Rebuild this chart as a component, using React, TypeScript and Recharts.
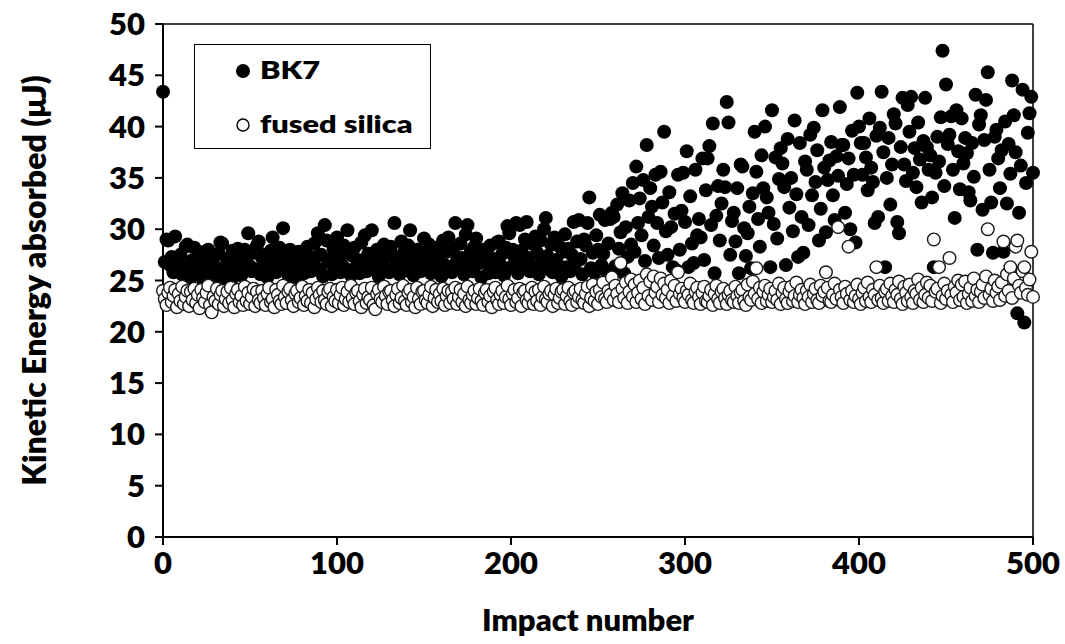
import {
  ScatterChart,
  Scatter,
  XAxis,
  YAxis,
  Legend,
  ReferenceLine,
} from 'recharts'

// impact numbers run 0..500, one reading per impact
const BK7 = [
  43.4, 26.8, 29.0, 28.9, 26.5, 27.3, 25.8, 29.3, 26.9, 26.1,
  27.5, 25.6, 26.4, 28.3, 28.5, 26.2, 25.3, 27.0, 28.2, 26.6,
  25.9, 27.4, 26.3, 25.1, 27.8, 26.0, 28.0, 26.7, 25.5, 27.2,
  26.1, 25.4, 27.6, 28.7, 28.6, 26.3, 25.2, 27.1, 26.5, 24.9,
  27.9, 26.2, 25.7, 28.1, 27.0, 25.5, 26.8, 28.0, 27.3, 29.6,
  26.4, 25.9, 27.7, 26.1, 28.4, 28.8, 25.6, 27.2, 26.0, 27.5,
  25.3, 26.7, 27.9, 29.2, 26.2, 25.8, 27.1, 28.2, 26.5, 30.1,
  27.4, 26.0, 25.5, 28.0, 26.9, 27.6, 25.2, 26.3, 27.8, 26.6,
  27.8, 25.7, 26.4, 28.3, 27.1, 25.9, 26.7, 28.6, 27.3, 29.6,
  26.1, 27.5, 25.4, 30.4, 28.9, 26.8, 27.0, 25.6, 28.1, 26.4,
  29.2, 27.2, 25.8, 26.5, 28.4, 27.7, 29.9, 26.0, 25.5, 27.4,
  28.2, 26.3, 27.0, 25.7, 28.7, 26.8, 29.4, 25.9, 27.6, 26.2,
  29.9, 27.1, 26.5, 28.0, 25.4, 27.8, 26.9, 28.5, 26.1, 27.3,
  25.8, 28.3, 27.5, 30.6, 26.4, 27.0, 25.6, 28.8, 26.7, 27.9,
  26.0, 28.4, 29.9, 27.2, 25.5, 26.8, 28.0, 27.4, 25.9, 26.6,
  29.1, 27.7, 26.2, 28.5, 25.7, 27.3, 26.9, 28.2, 26.0, 27.6,
  25.4, 28.9, 26.5, 27.8, 29.2, 26.3, 25.8, 28.1, 30.6, 27.0,
  26.4, 28.6, 27.2, 25.6, 29.5, 30.4, 26.8, 27.9, 25.9, 28.3,
  29.1, 26.6, 27.5, 25.3, 28.0, 26.9, 27.8, 25.7, 28.4, 26.2,
  27.1, 25.8, 28.7, 28.8, 26.5, 27.6, 25.5, 28.2, 30.3, 29.6,
  26.3, 28.0, 27.3, 30.6, 25.7, 30.4, 27.9, 26.6, 29.0, 30.7,
  27.2, 25.9, 28.6, 26.4, 29.3, 27.7, 25.6, 28.9, 26.8, 30.0,
  31.1, 27.4, 26.1, 28.5, 25.8, 29.2, 27.0, 26.5, 28.3, 25.4,
  27.8, 29.5, 26.3, 28.1, 25.9, 27.5, 30.7, 26.7, 28.8, 30.9,
  27.1, 25.6, 29.0, 28.4, 30.6, 33.1, 26.2, 27.7, 25.8, 29.4,
  28.0, 31.4, 26.5, 27.6, 30.9, 25.9, 28.6, 31.0, 31.6, 31.2,
  26.4, 32.4, 28.1, 29.7, 33.5, 25.7, 30.2, 27.3, 32.8, 28.5,
  34.5, 27.8, 36.1, 30.6, 33.0, 29.4, 34.8, 26.9, 38.2, 31.2,
  34.0, 32.2, 28.4, 35.3, 30.6, 27.2, 35.6, 32.6, 39.5, 29.8,
  27.5, 33.6, 30.2, 26.3, 31.5, 26.0, 35.3, 28.0, 31.8, 35.5,
  30.7, 37.6, 26.3, 33.2, 28.6, 26.7, 35.8, 29.4, 31.0, 29.2,
  36.9, 27.0, 33.8, 36.9, 38.1, 30.4, 40.3, 25.7, 31.3, 34.2,
  28.9, 32.5, 35.8, 34.1, 42.4, 40.4, 27.5, 30.8, 31.6, 28.8,
  34.0, 25.7, 36.3, 36.1, 30.1, 27.4, 29.6, 32.2, 26.2, 33.5,
  39.5, 35.6, 31.0, 28.3, 37.2, 34.0, 40.0, 33.1, 31.6, 26.3,
  41.6, 30.5, 37.0, 29.1, 34.9, 37.9, 36.4, 34.1, 26.5, 38.8,
  32.1, 35.0, 29.8, 40.6, 33.4, 27.3, 38.4, 31.2, 27.7, 36.6,
  35.8, 30.4, 39.2, 33.3, 39.9, 34.6, 37.7, 28.9, 32.0, 41.6,
  36.0, 29.7, 34.8, 36.7, 38.5, 33.3, 30.9, 37.1, 35.2, 41.9,
  38.2, 38.2, 31.6, 34.4, 36.9, 30.0, 39.6, 35.3, 28.7, 43.3,
  40.0, 38.4, 35.3, 38.4, 37.0, 33.8, 40.8, 36.0, 34.6, 30.6,
  39.1, 31.2, 39.9, 43.4, 37.5, 26.3, 35.0, 38.9, 32.4, 36.3,
  41.2, 40.3, 30.7, 29.6, 38.0, 42.8, 36.3, 34.7, 42.1, 39.5,
  42.9, 35.5, 37.9, 34.1, 40.4, 36.8, 32.6, 38.6, 42.8, 38.0,
  35.8, 37.2, 33.1, 26.3, 35.5, 39.0, 36.6, 40.9, 47.4, 34.2,
  44.1, 38.3, 39.2, 41.0, 35.8, 31.1, 41.6, 37.6, 33.9, 40.8,
  36.4, 38.9, 37.4, 33.6, 32.8, 38.4, 35.1, 43.1, 28.0, 40.2,
  41.1, 31.9, 38.7, 42.6, 45.3, 35.8, 32.6, 27.7, 39.0, 39.7,
  36.9, 34.0, 37.7, 27.8, 40.5, 32.5, 38.3, 35.4, 44.5, 41.1,
  37.5, 21.8, 31.6, 36.2, 43.6, 20.9, 34.5, 39.4, 41.3, 42.9,
  35.5,
]

const FUSED_SILICA = [
  24.0, 23.2, 22.6, 23.8, 24.3, 22.9, 23.5, 24.1, 22.4, 23.7,
  23.0, 24.4, 22.7, 23.4, 24.0, 22.5, 23.9, 23.1, 24.2, 22.8,
  23.6, 22.3, 24.1, 23.3, 22.9, 23.8, 24.5, 22.6, 21.9, 23.4,
  23.0, 24.2, 22.7, 23.6, 24.0, 22.5, 23.2, 23.9, 22.8, 24.3,
  23.1, 22.4, 23.7, 24.1, 22.9, 23.5, 22.6, 24.4, 23.0, 23.8,
  22.7, 23.4, 24.2, 22.5, 23.9, 23.1, 22.8, 24.0, 23.3, 22.6,
  23.7, 24.3, 22.9, 23.2, 22.4, 24.1, 23.6, 23.0, 22.7, 24.5,
  23.4, 22.8, 23.9, 24.2, 23.1, 22.5, 23.7, 24.0, 22.9, 23.3,
  24.4, 22.6, 23.5, 23.0, 24.1, 22.8, 23.8, 22.4, 23.2, 24.3,
  23.6, 22.9, 24.0, 23.1, 22.7, 23.9, 24.2, 22.5, 23.4, 23.0,
  24.1, 22.8, 23.6, 24.3, 22.6, 23.2, 23.9, 22.9, 24.5, 23.3,
  22.7, 23.8, 24.0, 23.0, 22.4, 23.6, 24.2, 22.8, 23.4, 23.1,
  24.3, 22.6, 22.2, 23.7, 24.1, 23.2, 22.9, 24.4, 23.5, 22.7,
  23.9, 24.0, 23.1, 22.5, 23.6, 24.2, 22.8, 23.3, 24.5, 23.0,
  22.6, 23.8, 24.1, 22.9, 23.4, 22.4, 24.3, 23.2, 22.7, 23.9,
  24.0, 23.1, 22.8, 23.6, 24.4, 22.5, 23.3, 24.1, 22.9, 23.7,
  23.0, 24.2, 22.6, 23.5, 24.0, 22.8, 23.9, 23.2, 24.3, 22.7,
  23.4, 24.1, 22.9, 23.7, 22.5, 24.4, 23.1, 22.8, 23.6, 24.0,
  22.7, 23.3, 24.2, 23.0, 22.6, 23.8, 24.1, 22.9, 23.5, 22.4,
  23.9, 24.3, 23.1, 22.7, 23.6, 24.0, 22.8, 23.4, 24.5, 23.2,
  22.6, 23.7, 24.1, 22.9, 23.3, 24.2, 22.5, 23.8, 24.0, 23.1,
  22.8, 23.5, 24.3, 22.7, 23.9, 23.0, 24.1, 22.6, 23.4, 24.4,
  23.2, 22.9, 23.7, 24.0, 22.5, 23.6, 24.2, 22.8, 23.3, 23.9,
  24.1, 22.7, 23.5, 24.3, 23.0, 22.6, 23.8, 24.0, 22.9, 23.4,
  24.2, 23.1, 22.8, 23.7, 24.4, 22.5, 23.3, 24.6, 23.0, 23.9,
  22.7, 24.1, 23.4, 24.8, 23.2, 22.9, 24.0, 23.6, 25.3, 23.1,
  24.5, 23.7, 22.9, 26.7, 24.2, 23.3, 24.8, 22.8, 23.9, 25.1,
  23.4, 24.6, 22.9, 23.8, 25.0, 23.2, 24.3, 22.7, 25.6, 23.5,
  24.9, 23.1, 25.4, 23.8, 24.4, 22.9, 25.2, 23.6, 24.7, 23.3,
  24.1, 22.8, 25.0, 23.5, 24.5, 23.0, 25.8, 23.7, 24.2, 23.3,
  22.9, 24.0, 23.6, 24.7, 23.1, 22.8, 23.9, 24.3, 23.4, 22.7,
  23.8, 24.4, 23.0, 22.9, 23.5, 24.1, 22.6, 23.7, 24.5, 23.2,
  22.8, 23.9, 24.2, 23.3, 22.7, 23.6, 24.0, 23.1, 22.9, 24.4,
  23.5, 22.8, 23.8, 24.1, 23.0, 22.6, 24.6, 23.4, 23.1, 24.9,
  23.7, 26.2, 23.2, 24.3, 22.8, 23.9, 24.5, 23.0, 23.6, 24.2,
  22.9, 23.4, 24.0, 23.1, 24.7, 22.7, 23.8, 24.3, 23.2, 22.8,
  23.9, 24.4, 23.0, 23.5, 24.8, 22.9, 23.6, 24.1, 23.3, 22.7,
  24.0, 23.4, 24.6, 22.9, 23.7, 24.2, 23.1, 22.8, 24.5, 23.5,
  23.9, 25.8, 24.3, 23.0, 22.9, 23.6, 24.7, 23.2, 30.2, 24.1,
  23.4, 22.8, 24.4, 23.7, 28.3, 23.1, 24.0, 22.9, 23.5, 24.6,
  23.2, 22.7, 23.8, 24.3, 23.0, 24.8, 23.4, 22.9, 24.1, 23.6,
  26.3, 23.1, 24.5, 23.3, 22.8, 23.9, 24.2, 23.0, 24.7, 23.5,
  22.9, 24.1, 23.6, 24.9, 23.2, 22.7, 24.4, 23.8, 23.0, 24.6,
  23.4, 22.8, 24.0, 23.7, 25.1, 23.1, 24.3, 22.9, 23.6, 24.8,
  23.3, 24.5, 23.0, 29.0, 23.9, 24.2, 26.3, 22.8, 23.5, 24.7,
  23.2, 24.0, 27.2, 23.6, 22.9, 24.4, 23.8, 25.0, 23.1, 24.6,
  23.4, 24.9, 22.8, 23.7, 24.3, 23.0, 25.2, 23.5, 24.1, 22.9,
  23.9, 24.6, 23.3, 25.4, 30.0, 23.6, 24.2, 23.0, 25.0, 23.8,
  24.4, 23.1, 24.8, 28.8, 23.5, 25.6, 24.0, 26.3, 23.3, 25.2,
  28.3, 28.9, 24.5, 23.8, 25.9, 26.3, 24.3, 23.6, 25.1, 27.8,
  23.4,
]

const IMPACT_TICKS = [0, 100, 200, 300, 400, 500]
const ENERGY_TICKS = [0, 5, 10, 15, 20, 25, 30, 35, 40, 45, 50]

const FONT = 'Lato, "Open Sans", sans-serif'

const bk7Points = BK7.map((v, i) => ({ impact: i, energy: v }))
const silicaPoints = FUSED_SILICA.map((v, i) => ({ impact: i, energy: v }))

const FilledDot = (props: any) => <circle cx={props.cx} cy={props.cy} r={7} fill="#000" />
const OpenDot = (props: any) => (
  <circle cx={props.cx} cy={props.cy} r={6.3} fill="#fff" stroke="#1a1a1a" strokeWidth={1.4} />
)

// legend box: marker + text, text a bit wider than Lato normally sets it
function LegendBox() {
  const text = {
    position: 'absolute',
    left: 65,
    transform: 'scaleX(1.28)',
    transformOrigin: 'left center',
    lineHeight: '24px',
  } as const
  return (
    <div
      style={{
        position: 'relative',
        width: 237,
        height: 105,
        boxSizing: 'border-box',
        border: '1.5px solid #000',
        background: '#fff',
        fontFamily: FONT,
        fontWeight: 800,
        fontSize: 24,
        color: '#000',
      }}
    >
      <svg width={237} height={105} style={{ position: 'absolute', left: -1.5, top: -1.5 }}>
        <circle cx={49} cy={27} r={7} fill="#000" />
        <circle cx={49} cy={81} r={6} fill="#fff" stroke="#000" strokeWidth={1.4} />
      </svg>
      <div style={{ ...text, top: 13 }}>BK7</div>
      <div style={{ ...text, top: 67 }}>fused silica</div>
    </div>
  )
}

const YTitle = (props: any) => {
  const { viewBox } = props
  const cy = viewBox.y + viewBox.height / 2
  return (
    <text
      x={33}
      y={cy}
      transform={`rotate(-90, 33, ${cy})`}
      textAnchor="middle"
      dominantBaseline="central"
      fontFamily={FONT}
      fontWeight={800}
      fontSize={32}
      fill="#000"
    >
      Kinetic Energy absorbed (μJ)
    </text>
  )
}

export default function App() {
  const tickStyle = { fontFamily: FONT, fontWeight: 800, fontSize: 31, fill: '#000' }
  return (
    <div style={{ position: 'absolute', left: 0, top: 0, width: 1065, height: 644, background: '#fff' }}>
      <ScatterChart width={1065} height={644} margin={{ top: 24, right: 32, bottom: 0, left: 0 }}>
        <XAxis
          type="number"
          dataKey="impact"
          domain={[0, 500]}
          ticks={IMPACT_TICKS}
          height={107}
          tickSize={8}
          tickMargin={7}
          tick={tickStyle}
          axisLine={{ stroke: '#000', strokeWidth: 2 }}
          tickLine={{ stroke: '#000', strokeWidth: 2 }}
          label={{
            value: 'Impact number',
            position: 'insideBottom',
            offset: 13,
            dx: -10,
            style: { fontFamily: FONT, fontWeight: 800, fontSize: 31, fill: '#000' },
          }}
        />
        <YAxis
          type="number"
          dataKey="energy"
          domain={[0, 50]}
          ticks={ENERGY_TICKS}
          width={163}
          tickSize={8}
          tickMargin={10}
          tick={tickStyle}
          axisLine={{ stroke: '#000', strokeWidth: 2 }}
          tickLine={{ stroke: '#000', strokeWidth: 2 }}
          label={<YTitle />}
        />
        <ReferenceLine y={50} stroke="#000" strokeWidth={1.5} />
        <ReferenceLine x={500} stroke="#000" strokeWidth={1.5} />
        <Legend
          layout="vertical"
          align="center"
          verticalAlign="middle"
          wrapperStyle={{ left: 194, top: 44, width: 237, height: 105 }}
          content={() => <LegendBox />}
        />
        <Scatter name="BK7" data={bk7Points} shape={FilledDot} isAnimationActive={false} />
        <Scatter name="fused silica" data={silicaPoints} shape={OpenDot} isAnimationActive={false} />
      </ScatterChart>
    </div>
  )
}
